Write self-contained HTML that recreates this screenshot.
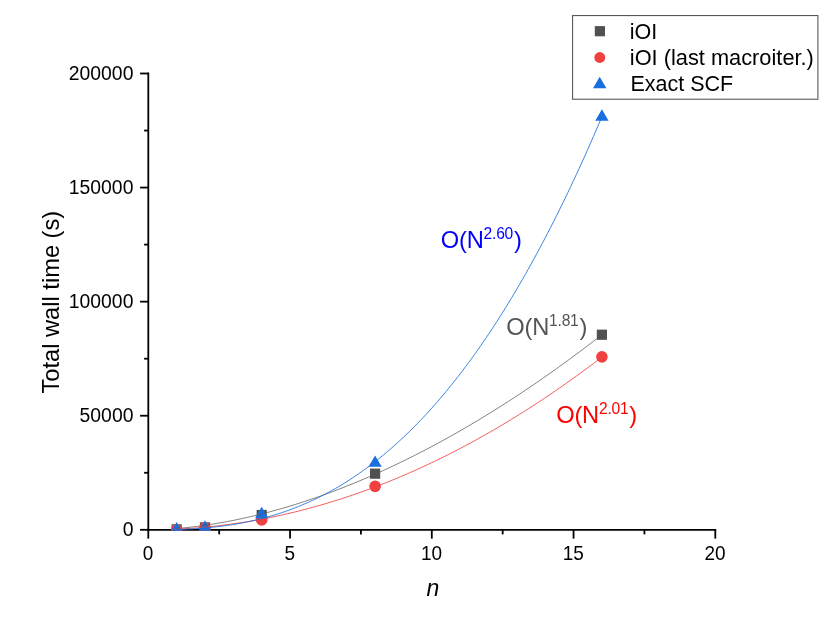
<!DOCTYPE html>
<html><head><meta charset="utf-8"><title>chart</title>
<style>
html,body{margin:0;padding:0;background:#fff;}
body{width:830px;height:636px;overflow:hidden;}
svg{display:block;will-change:transform;}
text{font-family:"Liberation Sans",sans-serif;}
</style></head><body>
<svg width="830" height="636" viewBox="0 0 830 636">
<rect width="830" height="636" fill="#fff"/>
<defs><clipPath id="cp"><rect x="147.4" y="0" width="600" height="530.75"/></clipPath></defs>

<g stroke="#000" stroke-width="1.8" fill="none" stroke-linecap="butt">
<line x1="148.30" y1="72.60" x2="148.30" y2="530.70"/>
<line x1="147.40" y1="529.80" x2="716.20" y2="529.80"/>
<line x1="140.10" y1="529.80" x2="148.30" y2="529.80"/>
<line x1="144.10" y1="472.76" x2="148.30" y2="472.76"/>
<line x1="140.10" y1="415.72" x2="148.30" y2="415.72"/>
<line x1="144.10" y1="358.69" x2="148.30" y2="358.69"/>
<line x1="140.10" y1="301.65" x2="148.30" y2="301.65"/>
<line x1="144.10" y1="244.61" x2="148.30" y2="244.61"/>
<line x1="140.10" y1="187.57" x2="148.30" y2="187.57"/>
<line x1="144.10" y1="130.54" x2="148.30" y2="130.54"/>
<line x1="140.10" y1="73.50" x2="148.30" y2="73.50"/>
<line x1="148.30" y1="529.80" x2="148.30" y2="538.60"/>
<line x1="219.18" y1="529.80" x2="219.18" y2="534.40"/>
<line x1="290.05" y1="529.80" x2="290.05" y2="538.60"/>
<line x1="360.93" y1="529.80" x2="360.93" y2="534.40"/>
<line x1="431.80" y1="529.80" x2="431.80" y2="538.60"/>
<line x1="502.68" y1="529.80" x2="502.68" y2="534.40"/>
<line x1="573.55" y1="529.80" x2="573.55" y2="538.60"/>
<line x1="644.42" y1="529.80" x2="644.42" y2="534.40"/>
<line x1="715.30" y1="529.80" x2="715.30" y2="538.60"/>
</g>
<g clip-path="url(#cp)">
<rect x="171.55" y="524.30" width="10.20" height="10.20" fill="#515151"/>
<rect x="199.90" y="522.30" width="10.20" height="10.20" fill="#515151"/>
<rect x="256.60" y="509.89" width="10.20" height="10.20" fill="#515151"/>
<rect x="370.00" y="468.58" width="10.20" height="10.20" fill="#515151"/>
<rect x="596.80" y="329.63" width="10.20" height="10.20" fill="#515151"/>
<circle cx="176.65" cy="529.75" r="5.80" fill="#F14040"/>
<circle cx="205.00" cy="527.97" r="5.80" fill="#F14040"/>
<circle cx="261.70" cy="519.90" r="5.80" fill="#F14040"/>
<circle cx="375.10" cy="486.37" r="5.80" fill="#F14040"/>
<circle cx="601.90" cy="356.89" r="5.80" fill="#F14040"/>
<polygon points="176.65,522.09 170.00,533.49 183.30,533.49" fill="#1A6FDF"/>
<polygon points="205.00,520.31 198.35,531.71 211.65,531.71" fill="#1A6FDF"/>
<polygon points="261.70,506.80 255.05,518.20 268.35,518.20" fill="#1A6FDF"/>
<polygon points="375.10,455.47 368.45,466.87 381.75,466.87" fill="#1A6FDF"/>
<polygon points="601.90,109.25 595.25,120.65 608.55,120.65" fill="#1A6FDF"/>
<polyline fill="none" stroke="#515151" stroke-opacity="0.85" stroke-width="0.85" points="176.65,528.51 179.49,528.27 182.32,528.01 185.16,527.73 187.99,527.43 190.83,527.11 193.66,526.78 196.50,526.43 199.33,526.06 202.17,525.68 205.00,525.28 207.84,524.86 210.67,524.42 213.50,523.97 216.34,523.51 219.18,523.02 222.01,522.53 224.85,522.01 227.68,521.48 230.52,520.94 233.35,520.38 236.19,519.80 239.02,519.21 241.86,518.60 244.69,517.98 247.53,517.34 250.36,516.69 253.20,516.02 256.03,515.34 258.87,514.65 261.70,513.94 264.54,513.21 267.37,512.47 270.21,511.72 273.04,510.95 275.88,510.17 278.71,509.37 281.55,508.56 284.38,507.74 287.22,506.90 290.05,506.04 292.88,505.18 295.72,504.30 298.56,503.40 301.39,502.49 304.23,501.57 307.06,500.63 309.90,499.68 312.73,498.72 315.57,497.75 318.40,496.75 321.24,495.75 324.07,494.73 326.90,493.70 329.74,492.66 332.58,491.60 335.41,490.53 338.25,489.45 341.08,488.35 343.92,487.24 346.75,486.12 349.59,484.98 352.42,483.84 355.25,482.67 358.09,481.50 360.93,480.31 363.76,479.11 366.60,477.90 369.43,476.67 372.27,475.43 375.10,474.18 377.94,472.91 380.77,471.64 383.61,470.35 386.44,469.04 389.28,467.73 392.11,466.40 394.94,465.06 397.78,463.71 400.62,462.34 403.45,460.96 406.29,459.57 409.12,458.17 411.96,456.75 414.79,455.32 417.62,453.88 420.46,452.43 423.30,450.97 426.13,449.49 428.97,448.00 431.80,446.50 434.63,444.98 437.47,443.46 440.31,441.92 443.14,440.37 445.98,438.81 448.81,437.23 451.64,435.65 454.48,434.05 457.32,432.44 460.15,430.81 462.99,429.18 465.82,427.53 468.66,425.87 471.49,424.20 474.33,422.52 477.16,420.83 480.00,419.12 482.83,417.40 485.67,415.67 488.50,413.93 491.34,412.18 494.17,410.41 497.01,408.63 499.84,406.84 502.68,405.04 505.51,403.23 508.35,401.41 511.18,399.57 514.02,397.73 516.85,395.87 519.68,394.00 522.52,392.11 525.36,390.22 528.19,388.31 531.03,386.40 533.86,384.47 536.69,382.53 539.53,380.58 542.37,378.61 545.20,376.64 548.04,374.65 550.87,372.66 553.71,370.65 556.54,368.63 559.38,366.60 562.21,364.55 565.05,362.50 567.88,360.43 570.72,358.36 573.55,356.27 576.38,354.17 579.22,352.06 582.06,349.94 584.89,347.80 587.73,345.66 590.56,343.50 593.39,341.33 596.23,339.16 599.07,336.97 601.90,334.77"/>
<polyline fill="none" stroke="#F14040" stroke-width="0.85" points="176.65,529.14 179.49,529.01 182.32,528.85 185.16,528.69 187.99,528.51 190.83,528.32 193.66,528.11 196.50,527.89 199.33,527.66 202.17,527.42 205.00,527.16 207.84,526.88 210.67,526.60 213.50,526.30 216.34,525.99 219.18,525.66 222.01,525.32 224.85,524.97 227.68,524.60 230.52,524.22 233.35,523.83 236.19,523.42 239.02,523.00 241.86,522.57 244.69,522.12 247.53,521.66 250.36,521.19 253.20,520.70 256.03,520.20 258.87,519.68 261.70,519.15 264.54,518.61 267.37,518.06 270.21,517.49 273.04,516.91 275.88,516.31 278.71,515.70 281.55,515.08 284.38,514.44 287.22,513.79 290.05,513.13 292.88,512.45 295.72,511.76 298.56,511.06 301.39,510.34 304.23,509.61 307.06,508.87 309.90,508.11 312.73,507.34 315.57,506.55 318.40,505.75 321.24,504.94 324.07,504.11 326.90,503.27 329.74,502.42 332.58,501.55 335.41,500.67 338.25,499.78 341.08,498.87 343.92,497.95 346.75,497.02 349.59,496.07 352.42,495.11 355.25,494.13 358.09,493.14 360.93,492.14 363.76,491.12 366.60,490.09 369.43,489.05 372.27,487.99 375.10,486.92 377.94,485.84 380.77,484.74 383.61,483.63 386.44,482.51 389.28,481.37 392.11,480.21 394.94,479.05 397.78,477.87 400.62,476.68 403.45,475.47 406.29,474.25 409.12,473.02 411.96,471.77 414.79,470.51 417.62,469.23 420.46,467.95 423.30,466.64 426.13,465.33 428.97,464.00 431.80,462.66 434.63,461.30 437.47,459.93 440.31,458.55 443.14,457.15 445.98,455.74 448.81,454.31 451.64,452.87 454.48,451.42 457.32,449.96 460.15,448.48 462.99,446.99 465.82,445.48 468.66,443.96 471.49,442.42 474.33,440.88 477.16,439.32 480.00,437.74 482.83,436.15 485.67,434.55 488.50,432.94 491.34,431.31 494.17,429.66 497.01,428.01 499.84,426.34 502.68,424.65 505.51,422.96 508.35,421.24 511.18,419.52 514.02,417.78 516.85,416.03 519.68,414.26 522.52,412.48 525.36,410.69 528.19,408.88 531.03,407.06 533.86,405.23 536.69,403.38 539.53,401.52 542.37,399.64 545.20,397.75 548.04,395.85 550.87,393.93 553.71,392.00 556.54,390.06 559.38,388.10 562.21,386.13 565.05,384.15 567.88,382.15 570.72,380.14 573.55,378.11 576.38,376.07 579.22,374.02 582.06,371.95 584.89,369.87 587.73,367.78 590.56,365.67 593.39,363.55 596.23,361.41 599.07,359.26 601.90,357.10"/>
<polyline fill="none" stroke="#1A6FDF" stroke-width="0.85" points="176.65,529.49 179.49,529.41 182.32,529.31 185.16,529.20 187.99,529.07 190.83,528.92 193.66,528.76 196.50,528.59 199.33,528.39 202.17,528.18 205.00,527.95 207.84,527.70 210.67,527.43 213.50,527.13 216.34,526.82 219.18,526.49 222.01,526.13 224.85,525.76 227.68,525.35 230.52,524.93 233.35,524.48 236.19,524.01 239.02,523.51 241.86,522.99 244.69,522.44 247.53,521.86 250.36,521.26 253.20,520.62 256.03,519.97 258.87,519.28 261.70,518.56 264.54,517.82 267.37,517.04 270.21,516.24 273.04,515.40 275.88,514.54 278.71,513.64 281.55,512.71 284.38,511.75 287.22,510.75 290.05,509.73 292.88,508.66 295.72,507.57 298.56,506.44 301.39,505.28 304.23,504.08 307.06,502.85 309.90,501.58 312.73,500.27 315.57,498.93 318.40,497.55 321.24,496.13 324.07,494.68 326.90,493.19 329.74,491.66 332.58,490.09 335.41,488.48 338.25,486.83 341.08,485.15 343.92,483.42 346.75,481.65 349.59,479.84 352.42,477.99 355.25,476.10 358.09,474.17 360.93,472.19 363.76,470.17 366.60,468.11 369.43,466.01 372.27,463.86 375.10,461.67 377.94,459.43 380.77,457.15 383.61,454.82 386.44,452.45 389.28,450.03 392.11,447.57 394.94,445.06 397.78,442.51 400.62,439.90 403.45,437.25 406.29,434.56 409.12,431.81 411.96,429.02 414.79,426.18 417.62,423.29 420.46,420.35 423.30,417.36 426.13,414.32 428.97,411.23 431.80,408.09 434.63,404.90 437.47,401.66 440.31,398.37 443.14,395.02 445.98,391.63 448.81,388.18 451.64,384.68 454.48,381.13 457.32,377.52 460.15,373.86 462.99,370.15 465.82,366.38 468.66,362.56 471.49,358.69 474.33,354.76 477.16,350.77 480.00,346.73 482.83,342.64 485.67,338.49 488.50,334.28 491.34,330.01 494.17,325.69 497.01,321.31 499.84,316.88 502.68,312.38 505.51,307.83 508.35,303.22 511.18,298.56 514.02,293.83 516.85,289.04 519.68,284.20 522.52,279.29 525.36,274.33 528.19,269.31 531.03,264.22 533.86,259.08 536.69,253.87 539.53,248.60 542.37,243.27 545.20,237.88 548.04,232.43 550.87,226.92 553.71,221.34 556.54,215.70 559.38,210.00 562.21,204.23 565.05,198.40 567.88,192.51 570.72,186.55 573.55,180.53 576.38,174.44 579.22,168.29 582.06,162.08 584.89,155.79 587.73,149.45 590.56,143.03 593.39,136.55 596.23,130.01 599.07,123.40 601.90,116.72"/>
</g>
<g font-size="20" fill="#000">
<text transform="translate(133.4,536.10) scale(0.968,1)" text-anchor="end">0</text>
<text transform="translate(133.4,422.02) scale(0.968,1)" text-anchor="end">50000</text>
<text transform="translate(133.4,307.95) scale(0.968,1)" text-anchor="end">100000</text>
<text transform="translate(133.4,193.87) scale(0.968,1)" text-anchor="end">150000</text>
<text transform="translate(133.4,79.80) scale(0.968,1)" text-anchor="end">200000</text>
<text transform="translate(148.10,560.4) scale(0.95,1)" text-anchor="middle">0</text>
<text transform="translate(289.85,560.4) scale(0.95,1)" text-anchor="middle">5</text>
<text transform="translate(431.60,560.4) scale(0.95,1)" text-anchor="middle">10</text>
<text transform="translate(573.35,560.4) scale(0.95,1)" text-anchor="middle">15</text>
<text transform="translate(715.10,560.4) scale(0.95,1)" text-anchor="middle">20</text>
</g>
<text font-size="23.5" fill="#000" text-anchor="middle" transform="translate(59.2,302.2) rotate(-90) scale(1.008,1)">Total wall time (s)</text>
<text font-size="23" fill="#000" font-style="italic" text-anchor="middle" x="432.8" y="595.9">n</text>
<text font-size="23.7" letter-spacing="-0.22" fill="#0000FF" x="440.80" y="248.10">O(N<tspan font-size="15.6" dy="-8.7">2.60</tspan><tspan dy="8.7" dx="0.9">)</tspan></text>
<text font-size="23.7" letter-spacing="-0.22" fill="#555555" x="506.30" y="335.00">O(N<tspan font-size="15.6" dy="-8.7">1.81</tspan><tspan dy="8.7" dx="0.9">)</tspan></text>
<text font-size="23.7" letter-spacing="-0.22" fill="#FF0000" x="556.20" y="422.80">O(N<tspan font-size="15.6" dy="-8.7">2.01</tspan><tspan dy="8.7" dx="0.9">)</tspan></text>
<rect x="572.6" y="15.6" width="245.3" height="83.6" fill="#fff" stroke="#484848" stroke-width="1"/>
<rect x="594.80" y="26.10" width="10.20" height="10.20" fill="#515151"/>
<circle cx="599.80" cy="57.50" r="5.45" fill="#F14040"/>
<polygon points="599.70,76.67 593.00,88.27 606.40,88.27" fill="#1A6FDF"/>
<g font-size="21.5" fill="#000"><text x="629.8" y="38.6">iOI</text><text transform="translate(629.8,64.8) scale(1.0145,1)">iOI (last macroiter.)</text><text x="630.4" y="91.2">Exact SCF</text></g>
</svg></body></html>
